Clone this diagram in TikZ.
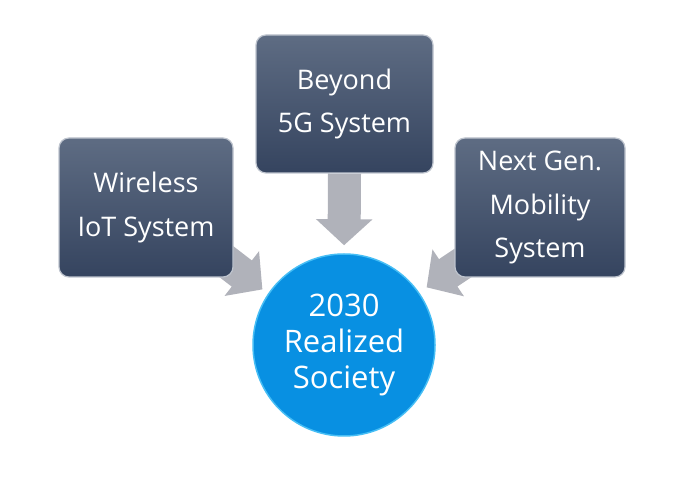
\documentclass[tikz,border=0pt]{standalone}
\usepackage{fontspec}
\setmainfont{Open Sans}
\usetikzlibrary{arrows.meta,backgrounds,calc}
\definecolor{boxtop}{RGB}{94,108,131}
\definecolor{boxbot}{RGB}{53,68,95}
\definecolor{boxrim}{RGB}{190,196,206}
\definecolor{goalblue}{RGB}{8,144,226}
\definecolor{goalrim}{RGB}{70,190,245}
\definecolor{arrgray}{RGB}{176,178,186}
\begin{document}
\begin{tikzpicture}[x=1pt,y=1pt,
  sysbox/.style={rounded corners=10pt,minimum width=174pt,minimum height=139pt,
    top color=boxtop,bottom color=boxbot,draw=boxrim,line width=1.2pt,
    text=white,align=center,font=\fontsize{27}{43.5}\selectfont},
  goal/.style={circle,minimum size=182pt,inner sep=0pt,fill=goalblue,
    draw=goalrim,line width=1.5pt,text=white,align=center,
    font=\fontsize{31}{36}\selectfont},
  feed/.style={draw=arrgray,line width=33pt,-{Triangle[width=55pt,length=26pt]}}]
  \useasboundingbox (0,0) rectangle (698,481);
  % systems and the goal
  \node[sysbox] (wireless) at (146,273.5) {Wireless\\IoT System};
  \node[sysbox,minimum width=177pt,minimum height=138pt] (beyond) at (344.5,377) {Beyond\\5G System};
  \node[sysbox,minimum width=170pt] (nextgen) at (540,273.5) {Next Gen.\\Mobility\\System};
  \node[goal] (society) at (344,136) {2030\\Realized\\Society};
  % block arrows behind the boxes
  \begin{scope}[on background layer]
    \fill[white] (0,0) rectangle (698,481);
    \draw[feed,shorten >=8pt] (beyond.south) -- (society.north);
    \draw[feed,shorten >=7pt] ($(wireless.south east)+(-19,25)$) -- (society.146);
    \draw[feed,shorten >=9pt] ($(nextgen.south west)+(21,23)$) -- (society.35);
  \end{scope}
\end{tikzpicture}
\end{document}
